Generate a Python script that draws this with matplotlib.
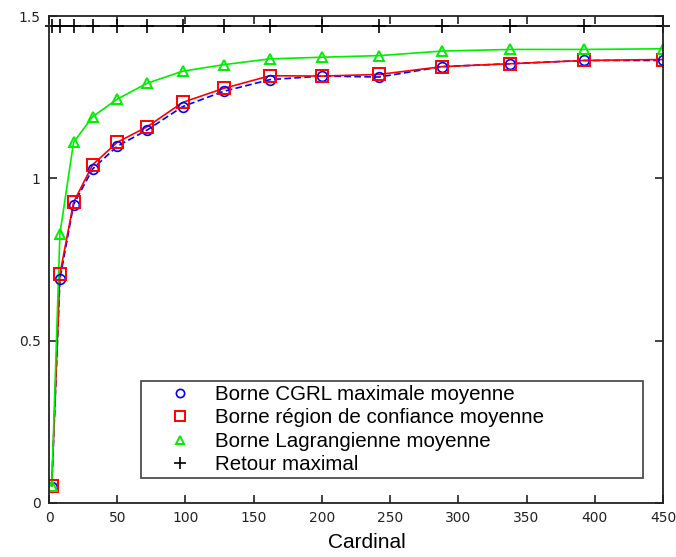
import numpy as np
import matplotlib
matplotlib.use("Agg")
import matplotlib.pyplot as plt

# Cardinal values (2 n^2)
cardinal = [2, 8, 18, 32, 50, 72, 98, 128, 162, 200, 242, 288, 338, 392, 450]

# Mean bounds
borne_cgrl = [0.05, 0.69, 0.919, 1.029, 1.099, 1.149, 1.221, 1.268, 1.304,
              1.315, 1.312, 1.344, 1.353, 1.363, 1.363]
borne_region = [0.052, 0.705, 0.926, 1.042, 1.111, 1.159, 1.234, 1.277, 1.316,
                1.315, 1.320, 1.344, 1.353, 1.363, 1.366]
borne_lagrange = [0.052, 0.829, 1.111, 1.190, 1.244, 1.293, 1.330, 1.350, 1.368,
                  1.373, 1.378, 1.392, 1.397, 1.397, 1.399]
retour_max = [1.468] * 15

labels = ["Borne CGRL maximale moyenne",
          "Borne région de confiance moyenne",
          "Borne Lagrangienne moyenne",
          "Retour maximal"]

fig = plt.figure(figsize=(6.76, 5.57), dpi=100)
ax = fig.add_axes([49/676, 54/557, 614/676, 487/557])

# lines
ax.plot(cardinal, borne_cgrl, color='blue', ls='--', lw=1.2, dashes=(4, 2))
ax.plot(cardinal, borne_region, color='red', lw=1.2)
ax.plot(cardinal, borne_lagrange, color='#00ee00', lw=1.2)
ax.plot(cardinal, retour_max, color='black', lw=1.2, clip_on=False)

# markers (these carry the legend)
ax.plot(cardinal, borne_cgrl, ls='none', marker='o', ms=7, mfc='none',
        mec='blue', mew=1.2, label=labels[0])
ax.plot(cardinal, borne_region, ls='none', marker='s', ms=8, mfc='none',
        mec='red', mew=1.4, label=labels[1])
ax.plot(cardinal, borne_lagrange, ls='none', marker='^', ms=7, mfc='none',
        mec='#00ee00', mew=1.4, label=labels[2])
ax.plot(cardinal, retour_max, ls='none', marker='+', ms=10, mec='black',
        mew=1.2, label=labels[3], clip_on=False)

ax.set_xlim(0, 450)
ax.set_ylim(0, 1.5)
ax.set_xticks(np.arange(0, 451, 50))
ax.set_yticks([0, 0.5, 1, 1.5])
ax.set_yticklabels(['0', '0.5', '1', '1.5'])
ax.tick_params(direction='in', top=True, right=True, length=6, width=1.2,
               labelsize=10, colors='#222222', pad=6)
for s in ax.spines.values():
    s.set_linewidth(1.3)
    s.set_color('#222222')

ax.set_xlabel("Cardinal", fontsize=15, family='Liberation Sans')
ax.xaxis.set_label_coords(0.518, -0.062)

leg = ax.legend(loc='lower left', bbox_to_anchor=(0.150, 0.051, 0.817, 0.214),
                mode='expand', prop={'family': 'Liberation Sans', 'size': 14.8},
                frameon=True, fancybox=False, edgecolor='#222222',
                handlelength=3.4, handletextpad=0.0, labelspacing=0.21,
                borderpad=0.2, borderaxespad=0, markerscale=0.85)
leg.get_frame().set_linewidth(1.3)

fig.savefig("out.png", dpi=100)
